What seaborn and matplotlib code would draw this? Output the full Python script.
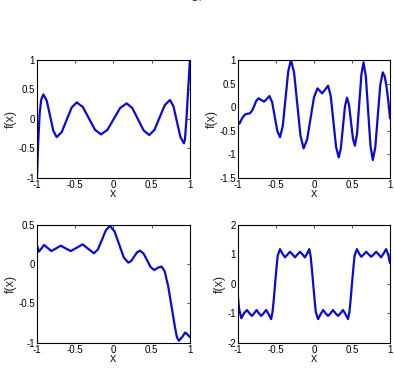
import numpy as np
import matplotlib
matplotlib.use("Agg")
import matplotlib.pyplot as plt
import pandas as pd
import seaborn as sns

# values
tl_x = [-1.0, -0.985, -0.965, -0.945, -0.917, -0.8735, -0.83, -0.7865, -0.743,
        -0.677, -0.6115, -0.546, -0.48, -0.401, -0.3215, -0.242, -0.163,
        -0.079, 0.0045, 0.088, 0.172, 0.246, 0.32, 0.394, 0.468,
        0.536, 0.6035, 0.671, 0.739, 0.785, 0.8305, 0.876, 0.922,
        0.935, 0.955, 0.975, 1.0]
tl_y = [-0.98, -0.4, 0.1, 0.33, 0.416, 0.31, 0.053, -0.204, -0.31,
        -0.224, -0.015, 0.194, 0.28, 0.201, 0.008, -0.185, -0.264,
        -0.187, 0.0, 0.186, 0.263, 0.184, -0.006, -0.196, -0.275,
        -0.188, 0.0225, 0.233, 0.32, 0.213, -0.048, -0.309, -0.416,
        -0.35, 0.0, 0.45, 1.0]

tr_x = [-1.0, -0.98, -0.94, -0.904, -0.87, -0.84, -0.81, -0.785, -0.76, -0.73,
        -0.693, -0.656, -0.621, -0.586, -0.551, -0.5165, -0.482, -0.447,
        -0.411, -0.375, -0.339, -0.303, -0.2615, -0.22, -0.1785, -0.137,
        -0.091, -0.0455, 0.0, 0.046, 0.0765, 0.107, 0.146, 0.185,
        0.22, 0.255, 0.29, 0.325, 0.352, 0.3795, 0.407, 0.434,
        0.46, 0.486, 0.512, 0.538, 0.566, 0.5945, 0.623, 0.651,
        0.6815, 0.712, 0.7425, 0.773, 0.806, 0.8385, 0.871, 0.904,
        0.93, 0.955, 0.98, 1.0]
tr_y = [-0.296, -0.35, -0.22, -0.154, -0.14, -0.13, -0.06, 0.03, 0.13, 0.186,
        0.15, 0.115, 0.175, 0.235, 0.107, -0.2025, -0.512, -0.64,
        -0.401, 0.18, 0.761, 1.0, 0.726, 0.0615, -0.603, -0.877,
        -0.691, -0.24, 0.212, 0.398, 0.344, 0.29, 0.372, 0.455,
        0.232, -0.3075, -0.847, -1.07, -0.885, -0.435, 0.015, 0.2,
        0.051, -0.31, -0.671, -0.82, -0.562, 0.065, 0.692, 0.95,
        0.647, -0.0875, -0.822, -1.125, -0.853, -0.1935, 0.466, 0.738,
        0.65, 0.42, 0.08, -0.24]

bl_x = [-1.0, -0.978, -0.943, -0.908, -0.86, -0.813, -0.75, -0.69, -0.625,
        -0.56, -0.48, -0.403, -0.33, -0.255, -0.203, -0.15, -0.098, -0.046,
        0.014, 0.074, 0.134, 0.194, 0.232, 0.27, 0.308, 0.346,
        0.393, 0.44, 0.487, 0.534, 0.58, 0.63, 0.67, 0.717, 0.76, 0.804,
        0.83, 0.856, 0.897, 0.939, 0.963, 1.0]
bl_y = [0.24, 0.16, 0.2, 0.245, 0.207, 0.168, 0.202, 0.236, 0.202,
        0.168, 0.21, 0.253, 0.196, 0.139, 0.19, 0.313, 0.436, 0.487,
        0.419, 0.2535, 0.088, 0.02, 0.042, 0.0965, 0.151, 0.173,
        0.137, 0.05, -0.038, -0.074, -0.045, -0.03, -0.09, -0.286, -0.54, -0.80,
        -0.93, -0.975, -0.93, -0.87, -0.89, -0.93]

br_x = [-1.0, -0.985, -0.956, -0.92, -0.882, -0.85, -0.817, -0.787, -0.756,
        -0.725, -0.695, -0.663, -0.63, -0.597, -0.564, -0.545, -0.528, -0.512,
        -0.495, -0.478, -0.447, -0.414, -0.381, -0.348, -0.316, -0.283, -0.25,
        -0.218, -0.185, -0.152, -0.12, -0.09, -0.063, -0.045, -0.028, -0.011,
        0.006, 0.023, 0.054, 0.087, 0.12, 0.152, 0.185, 0.218, 0.25, 0.283,
        0.316, 0.348, 0.381, 0.414, 0.447, 0.466, 0.483, 0.499, 0.516, 0.533,
        0.564, 0.593, 0.621, 0.654, 0.686, 0.719, 0.752, 0.785, 0.817, 0.85,
        0.882, 0.915, 0.948, 0.975, 1.0]
br_y = [-0.46, -0.85, -1.17, -1.0, -0.89, -1.0, -1.09, -1.0, -0.89,
        -1.0, -1.09, -1.0, -0.89, -1.03, -1.2, -0.95, -0.5, 0.0,
        0.5, 0.95, 1.18, 1.02, 0.9, 1.0, 1.09, 1.0, 0.9,
        1.0, 1.09, 1.0, 0.9, 1.03, 1.18, 0.95, 0.5, 0.0,
        -0.5, -0.95, -1.2, -1.03, -0.89, -1.0, -1.09, -1.0, -0.89, -1.0,
        -1.09, -1.0, -0.89, -1.03, -1.2, -0.95, -0.5, 0.0, 0.5, 0.95,
        1.18, 1.03, 0.92, 1.0, 1.09, 1.0, 0.92, 1.0, 1.09, 1.0,
        0.9, 1.03, 1.18, 1.0, 0.7]

x_ticks = [-1, -0.5, 0, 0.5, 1]
x_ticklabels = ['-1', '-0.5', '0', '0.5', '1']

panels = [
    # (x, y, ylim, yticks, yticklabels, axes rect)
    (tl_x, tl_y, (-1, 1), [-1, -0.5, 0, 0.5, 1], ['-1', '-0.5', '0', '0.5', '1'],
     [0.094, 0.5274, 0.388, 0.313]),
    (tr_x, tr_y, (-1.5, 1), [-1.5, -1, -0.5, 0, 0.5, 1], ['-1.5', '-1', '-0.5', '0', '0.5', '1'],
     [0.604, 0.5274, 0.386, 0.313]),
    (bl_x, bl_y, (-1, 0.5), [-1, -0.5, 0, 0.5], ['-1', '-0.5', '0', '0.5'],
     [0.094, 0.0886, 0.388, 0.313]),
    (br_x, br_y, (-2, 2), [-2, -1, 0, 1, 2], ['-2', '-1', '0', '1', '2'],
     [0.604, 0.0886, 0.386, 0.313]),
]

sns.set_style("white")
plt.rcParams['font.family'] = ['Liberation Sans', 'DejaVu Sans']
plt.rcParams['axes.unicode_minus'] = False

fig = plt.figure(figsize=(3.94, 3.76), dpi=100)

for px, py, ylim, yticks, yticklabels, rect in panels:
    ax = fig.add_axes(rect)
    df = pd.DataFrame({'x': px, 'f': py})
    sns.lineplot(data=df, x='x', y='f', ax=ax, color='#0a0ad6', linewidth=1.6,
                 sort=False, estimator=None)
    ax.set_xlim(-1, 1)
    ax.set_ylim(*ylim)
    ax.set_xticks(x_ticks)
    ax.set_xticklabels(x_ticklabels)
    ax.set_yticks(yticks)
    ax.set_yticklabels(yticklabels)
    ax.tick_params(direction='in', length=2.5, width=0.5, labelsize=7,
                   top=True, right=True, pad=1.5, colors='black')
    for s in ax.spines.values():
        s.set_color('black')
        s.set_linewidth(0.8)
    ax.set_xlabel('x', fontsize=9, labelpad=-1)
    ax.set_ylabel('f(x)', fontsize=9, labelpad=1)

# page number cut off at the top edge (as in the reference)
fig.text(0.5, 0.992, '14', ha='center', va='bottom', fontsize=7)

fig.savefig('out.png', dpi=100)
